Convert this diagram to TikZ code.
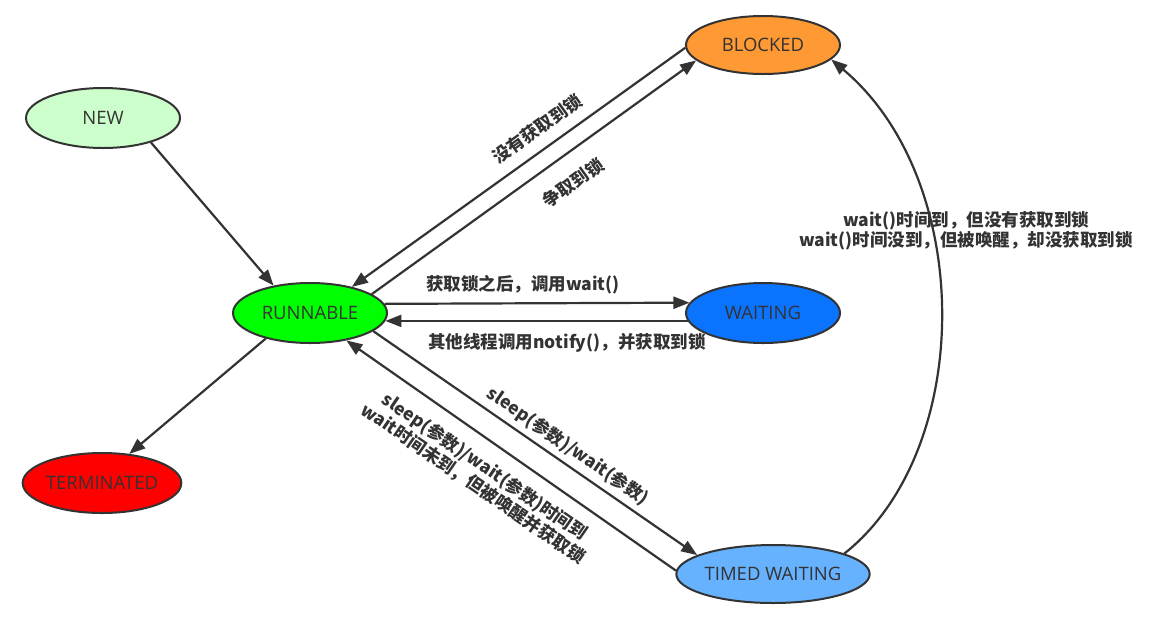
\documentclass[tikz,border=0pt]{standalone}
\usepackage{fontspec}
\setmainfont{Open Sans}
\newfontfamily\cjk{Noto Sans CJK SC}
\usetikzlibrary{shapes.geometric,arrows.meta}
\definecolor{ink}{HTML}{333333}
\definecolor{cnew}{HTML}{CCFFCC}
\definecolor{cblocked}{HTML}{FF9933}
\definecolor{crun}{HTML}{00FF00}
\definecolor{cwait}{HTML}{0A74FF}
\definecolor{ctimed}{HTML}{66B2FF}
\definecolor{cterm}{HTML}{FF0000}
\tikzset{
  state/.style={ellipse, draw=ink, line width=2pt, minimum width=154pt, minimum height=60pt,
    inner sep=0pt, text=ink, font=\fontsize{18.5}{20}\selectfont},
  arr/.style={draw=ink, line width=2.2pt, -{Triangle[length=16pt,width=12pt]}},
  lbl/.style={text=ink, font=\cjk\bfseries\fontsize{17.5}{20.5}\selectfont, inner sep=0pt, align=center}
}
\begin{document}
\begin{tikzpicture}[x=1pt,y=-1pt]
\useasboundingbox[fill=white] (0,0) rectangle (1149,625);
\node[state, fill=cnew] (new) at (103,118) {NEW};
\node[state, fill=cblocked, minimum height=58pt] (blocked) at (763,45) {BLOCKED};
\node[state, fill=crun] (run) at (310,313) {RUNNABLE};
\node[state, fill=cwait] (wait) at (763,313) {WAITING};
\node[state, fill=ctimed, minimum width=176pt, minimum height=58pt] (timed) at (773,574) {TIMED WAITING};
\node[state, fill=cterm] (term) at (102,483) {TERMINATED};

\draw[arr] (new.-27) -- (run.143);
\draw[arr] (run.210) -- (term.47);
\draw[arr] (blocked.182) -- (run.32.6);
\draw[arr] (run.17) -- (blocked.193.6);
\draw[arr] (run.7.6) -- (wait.172.4);
\draw[arr] (wait.186) -- (run.-6);
\draw[arr] (run.-16.3) -- (timed.166);
\draw[arr] (timed.178.7) -- (run.-37);
\draw[arr] (timed.16) .. controls (975,450) and (975,180) .. (blocked.-12);

\node[lbl, rotate=35.6] (l1) at (537,129) {没有获取到锁};
\node[lbl, rotate=35.6] (l2) at (573,183) {争取到锁};
\node[lbl] (l3) at (523,285) {获取锁之后，调用wait()};
\node[lbl] (l4) at (567,343) {其他线程调用notify()，并获取到锁};
\node[lbl, rotate=-34.5] (l5) at (568,446) {sleep(参数)/wait(参数)};
\node[lbl, rotate=-34.5] (l6) at (479,475) {sleep(参数)/wait(参数)时间到\\wait时间未到，但被唤醒并获取锁};
\node[lbl] (l7) at (966,231) {wait()时间到，但没有获取到锁\\wait()时间没到，但被唤醒，却没获取到锁};
\end{tikzpicture}
\end{document}
